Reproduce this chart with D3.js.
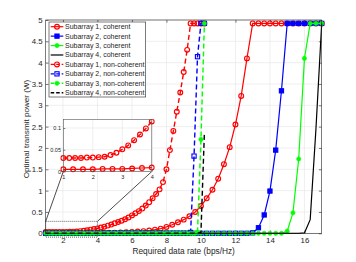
<!DOCTYPE html>
<html><head><meta charset="utf-8">
<script src="https://cdn.jsdelivr.net/npm/d3@7"></script>
<style>
body{margin:0;background:#fff;}
svg{display:block;}
text{font-family:"Liberation Sans",Arial,Helvetica,sans-serif;fill:#262626;}
</style>
</head><body>
<svg id="c" width="356" height="262"></svg>
<script>
// ---------------- data ----------------
const xCoh = [1,1.333,1.667,2,2.333,2.667,3,3.333,3.667,4,4.333,4.667,5,5.333,5.667,6,6.333,6.667,7,7.333,7.667,8,8.333,8.667,9,9.333,9.667,10,10.333,10.667,11,11.333,11.667,12,12.333,12.667,13,13.333,13.667,14,14.333,14.667,15,15.333,15.667,16,16.333,16.667,17];
const coh1 = [0.005,0.005,0.005,0.005,0.006,0.006,0.006,0.007,0.008,0.009,
  0.011,0.013,0.016,0.02,0.025,0.032,0.04,0.05,0.065,0.085,0.11,0.15,0.2,0.26,0.32,0.4,0.5,
  0.64,0.82,1.02,1.28,1.62,2.02,2.55,3.22,4.1,4.92,
  4.92,4.92,4.92,4.92,4.92,4.92,4.92,4.92,4.92,4.92,4.92,4.92];
const coh2 = [0,0,0,0,0,0,0,0,0,0,0,0,0,0,0,0,0,0,0,0,0,0,0,0,0,0,0,0,0,0,0,0,0,0,0,0,
  0.01,0.13,0.43,0.99,1.95,3.34,4.92,4.92,4.92,4.92,4.92,4.92,4.92];
const coh3 = [0,0,0,0,0,0,0,0,0,0,0,0,0,0,0,0,0,0,0,0,0,0,0,0,0,0,0,0,0,0,0,0,0,0,0,0,0,0,0,0,0,0,
  0.05,0.48,1.74,4.1,4.92,4.92,4.92];
const coh4 = [0,0,0,0,0,0,0,0,0,0,0,0,0,0,0,0,0,0,0,0,0,0,0,0,0,0,0,0,0,0,0,0,0,0,0,0,0,0,0,0,0,0,0,0,0,
  0.01,0.32,2.45,4.92];

const xNc = [1,1.2,1.4,1.6,1.8,2,2.2,2.4,2.6,2.8,3,3.2,3.4,3.6,3.8,4,4.2,4.4,4.6,4.8,5,5.2,5.4,5.6,5.8,6,6.2,6.4,6.6,6.8,7,7.2,7.4,7.6,7.8,8,8.2,8.4,8.6,8.8,9,9.2,9.4,9.6,9.8,10,10.2];
const nc1 = [0.031,0.031,0.031,0.031,0.032,0.032,0.033,0.034,0.038,0.043,0.051,0.06,0.072,0.085,0.099,0.115,
  0.135,0.155,0.18,0.205,0.235,0.265,0.295,0.33,0.37,0.42,0.47,0.52,0.58,0.65,0.73,0.82,0.92,1.03,1.2,1.5,1.95,2.4,2.85,3.3,3.78,4.3,4.92,4.92,4.92,4.92,4.92];
const nc2 = [0,0,0,0,0,0,0,0,0,0,0,0,0,0,0,0,0,0,0,0,0,0,0,0,0,0,0,0,0,0,0,0,0,0,0,0,0,0,0,0,0,0,
  0.02,1.81,4.14,4.92,4.92];
const nc3 = [0,0,0,0,0,0,0,0,0,0,0,0,0,0,0,0,0,0,0,0,0,0,0,0,0,0,0,0,0,0,0,0,0,0,0,0,0,0,0,0,0,0,0,0,
  0.02,2.2,4.92];
const nc4 = [0,0,0,0,0,0,0,0,0,0,0,0,0,0,0,0,0,0,0,0,0,0,0,0,0,0,0,0,0,0,0,0,0,0,0,0,0,0,0,0,0,0,0,0,0,0.02,
  2.36];

const xTicks = [2,4,6,8,10,12,14,16];
const yTicks = [0,0.5,1,1.5,2,2.5,3,3.5,4,4.5,5];
const yTickLabels = ["0","0.5","1","1.5","2","2.5","3","3.5","4","4.5","5"];
const insetXTicks = [1,2,3,4];
const insetYTicks = [0,0.05,0.1];
const insetYTickLabels = ["0","0.05","0.1"];
const legendLabels = ["Subarray 1, coherent","Subarray 2, coherent","Subarray 3, coherent","Subarray 4, coherent",
  "Subarray 1, non-coherent","Subarray 2, non-coherent","Subarray 3, non-coherent","Subarray 4, non-coherent"];
const xLabel = "Required data rate (bps/Hz)";
const yLabel = "Optimal transmit power (W)";

// ---------------- layout ----------------
const svg = d3.select("#c");
svg.append("rect").attr("width",356).attr("height",262).attr("fill","#fff");
const L=45.7, R=321.7, T=20, B=233.3;
const x = d3.scaleLinear().domain([1,17]).range([L,R]);
const y = d3.scaleLinear().domain([0,5]).range([B,T]);
const AX="#262626", GRID="#e4e4e4";

const series = [
  {xs:xCoh, ys:coh1, color:"#ff0000", dash:null, marker:"circle", fill:"none", r:2.4, lw:1.2},
  {xs:xCoh, ys:coh2, color:"#0000ff", dash:null, marker:"square", fill:"#0000ff", r:2.1, lw:1.2},
  {xs:xCoh, ys:coh3, color:"#00ff00", dash:null, marker:"dot", fill:"#00ff00", r:2.1, lw:1.2},
  {xs:xCoh, ys:coh4, color:"#000000", dash:null, marker:null, lw:1.2},
  {xs:xNc, ys:nc1, color:"#ff0000", dash:"5,3", marker:"circle", fill:"none", r:2.4, lw:1.4},
  {xs:xNc, ys:nc2, color:"#0000ff", dash:"5,3", marker:"square", fill:"none", r:2.1, lw:1.4},
  {xs:xNc, ys:nc3, color:"#00ff00", dash:"5,3", marker:"dot", fill:"#00ff00", r:2.1, lw:1.4},
  {xs:xNc, ys:nc4, color:"#000000", dash:"5,3", marker:null, lw:1.4}
];

function drawMarker(g, kind, cx, cy, s){
  if(kind==="circle"||kind==="dot"){
    g.append("circle").attr("cx",cx).attr("cy",cy).attr("r",s.r)
      .attr("fill",s.fill).attr("stroke",s.color).attr("stroke-width",kind==="dot"?0.6:1.15);
  } else if(kind==="square"){
    g.append("rect").attr("x",cx-s.r).attr("y",cy-s.r).attr("width",2*s.r).attr("height",2*s.r)
      .attr("fill",s.fill).attr("stroke",s.color).attr("stroke-width",1.1);
  }
}

function drawSeries(g, s, sx, sy, filter){
  const pts = s.xs.map((v,i)=>[v,s.ys[i]]).filter(filter||(()=>true));
  const line = d3.line().x(d=>sx(d[0])).y(d=>sy(d[1]));
  g.append("path").attr("d",line(pts)).attr("fill","none").attr("stroke",s.color)
    .attr("stroke-width",s.lw).attr("stroke-dasharray",s.dash);
  if(s.marker){
    const mg = g.append("g");
    pts.forEach(p=>drawMarker(mg,s.marker,sx(p[0]),sy(p[1]),s));
  }
}

// grid
const grid = svg.append("g");
xTicks.forEach(t=>grid.append("line").attr("x1",x(t)).attr("x2",x(t)).attr("y1",T).attr("y2",B).attr("stroke",GRID).attr("stroke-width",0.6));
yTicks.forEach(t=>grid.append("line").attr("x1",L).attr("x2",R).attr("y1",y(t)).attr("y2",y(t)).attr("stroke",GRID).attr("stroke-width",0.6));

// axes
function styleAxis(g, fs){
  g.attr("font-family",null).attr("font-size",null);
  g.selectAll("path.domain").remove();
  g.selectAll(".tick line").attr("stroke",AX).attr("stroke-width",0.6);
  g.selectAll(".tick text").attr("font-size",fs).attr("fill",AX);
}
const fmtY = (d)=>yTickLabels[yTicks.indexOf(d)];
svg.append("g").attr("transform",`translate(0,${B})`)
  .call(d3.axisBottom(x).tickValues(xTicks).tickSizeInner(-2.8).tickSizeOuter(0).tickPadding(4.6))
  .call(g=>styleAxis(g,7.8));
svg.append("g").attr("transform",`translate(0,${T})`)
  .call(d3.axisTop(x).tickValues(xTicks).tickSizeInner(-2.8).tickSizeOuter(0).tickFormat(""))
  .call(g=>styleAxis(g,7.8));
svg.append("g").attr("transform",`translate(${L},0)`)
  .call(d3.axisLeft(y).tickValues(yTicks).tickSizeInner(-2.8).tickSizeOuter(0).tickPadding(3.2).tickFormat(fmtY))
  .call(g=>styleAxis(g,7.8));
svg.append("g").attr("transform",`translate(${R},0)`)
  .call(d3.axisRight(y).tickValues(yTicks).tickSizeInner(-2.8).tickSizeOuter(0).tickFormat(""))
  .call(g=>styleAxis(g,7.8));

// series
const plotG = svg.append("g");
series.forEach(s=>drawSeries(plotG,s,x,y));

// box
svg.append("rect").attr("x",L).attr("y",T).attr("width",R-L).attr("height",B-T)
  .attr("fill","none").attr("stroke",AX).attr("stroke-width",0.6);

// axis labels
svg.append("text").attr("x",(L+R)/2).attr("y",253.5).attr("text-anchor","middle")
  .attr("font-size",8.3).text(xLabel);
svg.append("text").attr("transform","translate(29,129) rotate(-90)").attr("text-anchor","middle")
  .attr("font-size",8.1).text(yLabel);

// zoom box and connectors
const IL=63.3, IR=151.8, IT=119.3, IB=171.5;
const zx0=x(1), zx1=x(4), zy0=y(0.28), zy1=y(-0.09);
svg.append("rect").attr("x",zx0).attr("y",zy0).attr("width",zx1-zx0).attr("height",zy1-zy0)
  .attr("fill","none").attr("stroke","#222").attr("stroke-width",0.7).attr("stroke-dasharray","1,1");
svg.append("line").attr("x1",zx0).attr("y1",zy0).attr("x2",IL).attr("y2",IB).attr("stroke","#000").attr("stroke-width",0.7);
svg.append("line").attr("x1",zx1).attr("y1",zy0).attr("x2",IR).attr("y2",IB).attr("stroke","#000").attr("stroke-width",0.7);

// inset
const ix = d3.scaleLinear().domain([1,4]).range([IL,IR]);
const iy = d3.scaleLinear().domain([0,0.12]).range([IB,IT]);
const inset = svg.append("g");
inset.append("rect").attr("x",IL).attr("y",IT).attr("width",IR-IL).attr("height",IB-IT).attr("fill","#fff");
insetXTicks.forEach(t=>inset.append("line").attr("x1",ix(t)).attr("x2",ix(t)).attr("y1",IT).attr("y2",IB).attr("stroke",GRID).attr("stroke-width",0.6));
insetYTicks.forEach(t=>inset.append("line").attr("x1",IL).attr("x2",IR).attr("y1",iy(t)).attr("y2",iy(t)).attr("stroke",GRID).attr("stroke-width",0.6));
const clipId="insetclip";
svg.append("defs").append("clipPath").attr("id",clipId).append("rect")
  .attr("x",IL-3).attr("y",IT).attr("width",IR-IL+6).attr("height",IB-IT+4);
const insetData = inset.append("g").attr("clip-path",`url(#${clipId})`);
[series[0],series[4]].forEach(s=>drawSeries(insetData,s,ix,iy,p=>p[0]<=4.01));
inset.append("g").attr("transform",`translate(0,${IB})`)
  .call(d3.axisBottom(ix).tickValues(insetXTicks).tickSizeInner(-2).tickSizeOuter(0).tickPadding(3.5).tickFormat(d3.format("d")))
  .call(g=>styleAxis(g,5.5));
inset.append("g").attr("transform",`translate(${IL},0)`)
  .call(d3.axisLeft(iy).tickValues(insetYTicks).tickSizeInner(-2).tickSizeOuter(0).tickPadding(2.3).tickFormat((d)=>insetYTickLabels[insetYTicks.indexOf(d)]))
  .call(g=>styleAxis(g,5.5));
inset.append("rect").attr("x",IL).attr("y",IT).attr("width",IR-IL).attr("height",IB-IT)
  .attr("fill","none").attr("stroke","#555").attr("stroke-width",0.6);

// legend
const lg = svg.append("g");
const LX=49, LY=22, LW=96.7, LH=75;
lg.append("rect").attr("x",LX).attr("y",LY).attr("width",LW).attr("height",LH)
  .attr("fill","#fff").attr("stroke",AX).attr("stroke-width",0.6);
legendLabels.forEach((lab,i)=>{
  const s = series[i];
  const cy = 26.7 + i*9.43;
  lg.append("line").attr("x1",50.7).attr("x2",63.3).attr("y1",cy).attr("y2",cy)
    .attr("stroke",s.color).attr("stroke-width",s.lw).attr("stroke-dasharray",s.dash? "3.5,2":null);
  if(s.marker) drawMarker(lg,s.marker,57,cy,s);
  lg.append("text").attr("x",65).attr("y",cy).attr("dy","0.35em").attr("font-size",7).attr("fill","#000").text(lab);
});
</script>
</body></html>
